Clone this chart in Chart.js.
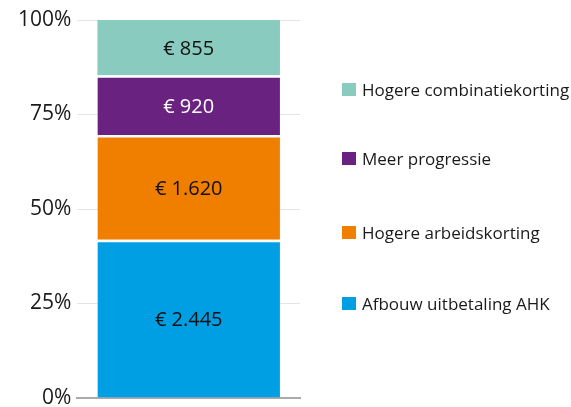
<!DOCTYPE html>
<html>
<head>
<meta charset="utf-8">
<script src="https://cdn.jsdelivr.net/npm/chart.js@4/dist/chart.umd.min.js"></script>
<style>
  html, body { margin: 0; padding: 0; background: #fff; }
  #wrap { position: relative; width: 571px; height: 407px; }
  #legend { position: absolute; left: 342px; top: 0; font-family: "Open Sans", sans-serif; font-size: 17px; color: #1a1a1a; }
  .item { position: absolute; left: 0; white-space: nowrap; display: flex; align-items: center; height: 20px; }
  .sw { width: 14px; height: 13px; margin-right: 6px; flex: none; }
</style>
</head>
<body>
<div id="wrap">
  <canvas id="c" width="571" height="407"></canvas>
  <div id="legend"></div>
</div>
<script>
// Data (bottom to top of the stacked bar)
const categories = [""];
const seriesNames = ["Afbouw uitbetaling AHK", "Hogere arbeidskorting", "Meer progressie", "Hogere combinatiekorting"];
const seriesEuro = [2445, 1620, 920, 855];
const seriesColors = ["#009fe3", "#f07f00", "#6a2280", "#89cbbf"];
const labelColors = ["#111111", "#111111", "#ffffff", "#111111"];
const yTicks = [0, 25, 50, 75, 100];
const legendCenters = [303, 232, 158, 89];

const total = seriesEuro.reduce((a, b) => a + b, 0);

function fmtEuro(v) {
  return "€ " + String(v).replace(/\B(?=(\d{3})+(?!\d))/g, ".");
}

const datasets = seriesNames.map((name, i) => ({
  label: name,
  data: [seriesEuro[i] / total * 100],
  euro: seriesEuro[i],
  backgroundColor: seriesColors[i],
  borderColor: "#ffffff",
  borderWidth: i === seriesNames.length - 1 ? 0 : { top: 2.5, left: 0, right: 0, bottom: 0 },
  borderSkipped: "start",
  barPercentage: 0.82,
  categoryPercentage: 1.0
}));

const valueLabels = {
  id: "valueLabels",
  afterDatasetsDraw(chart) {
    const ctx = chart.ctx;
    ctx.save();
    ctx.font = '20px "Open Sans", sans-serif';
    ctx.textAlign = "center";
    ctx.textBaseline = "middle";
    chart.data.datasets.forEach((ds, i) => {
      const el = chart.getDatasetMeta(i).data[0];
      const cy = (el.y + el.base) / 2;
      ctx.fillStyle = labelColors[i];
      ctx.fillText(fmtEuro(ds.euro), el.x, cy + 2);
    });
    ctx.restore();
  }
};

new Chart(document.getElementById("c"), {
  type: "bar",
  data: { labels: categories, datasets },
  options: {
    responsive: false,
    animation: false,
    layout: { padding: { top: 20, right: 271, bottom: 9, left: 12 } },
    plugins: { legend: { display: false }, tooltip: { enabled: false } },
    scales: {
      x: {
        stacked: true,
        ticks: { display: false, padding: 0 },
        grid: { display: false, drawTicks: false },
        border: { display: true, color: "#aaaaaa", width: 2 },
        afterFit(scale) { scale.height = 0; }
      },
      y: {
        stacked: true,
        min: 0, max: 100,
        afterBuildTicks(scale) { scale.ticks = yTicks.map(v => ({ value: v })); },
        afterFit(scale) { scale.paddingTop = 0; scale.paddingBottom = 0; },
        ticks: {
          callback: v => v + "%",
          font: { family: "Open Sans", size: 21 },
          color: "#1a1a1a",
          padding: 6
        },
        grid: { color: "#e4e4e4", drawTicks: false, lineWidth: 1 },
        border: { display: false }
      }
    }
  },
  plugins: [valueLabels]
});

// Legend (top item = last series)
const lg = document.getElementById("legend");
seriesNames.forEach((name, i) => {
  const d = document.createElement("div");
  d.className = "item";
  d.style.top = (legendCenters[i] - 10) + "px";
  d.innerHTML = '<span class="sw" style="background:' + seriesColors[i] + '"></span><span></span>';
  d.lastChild.textContent = name;
  lg.appendChild(d);
});
</script>
</body>
</html>
